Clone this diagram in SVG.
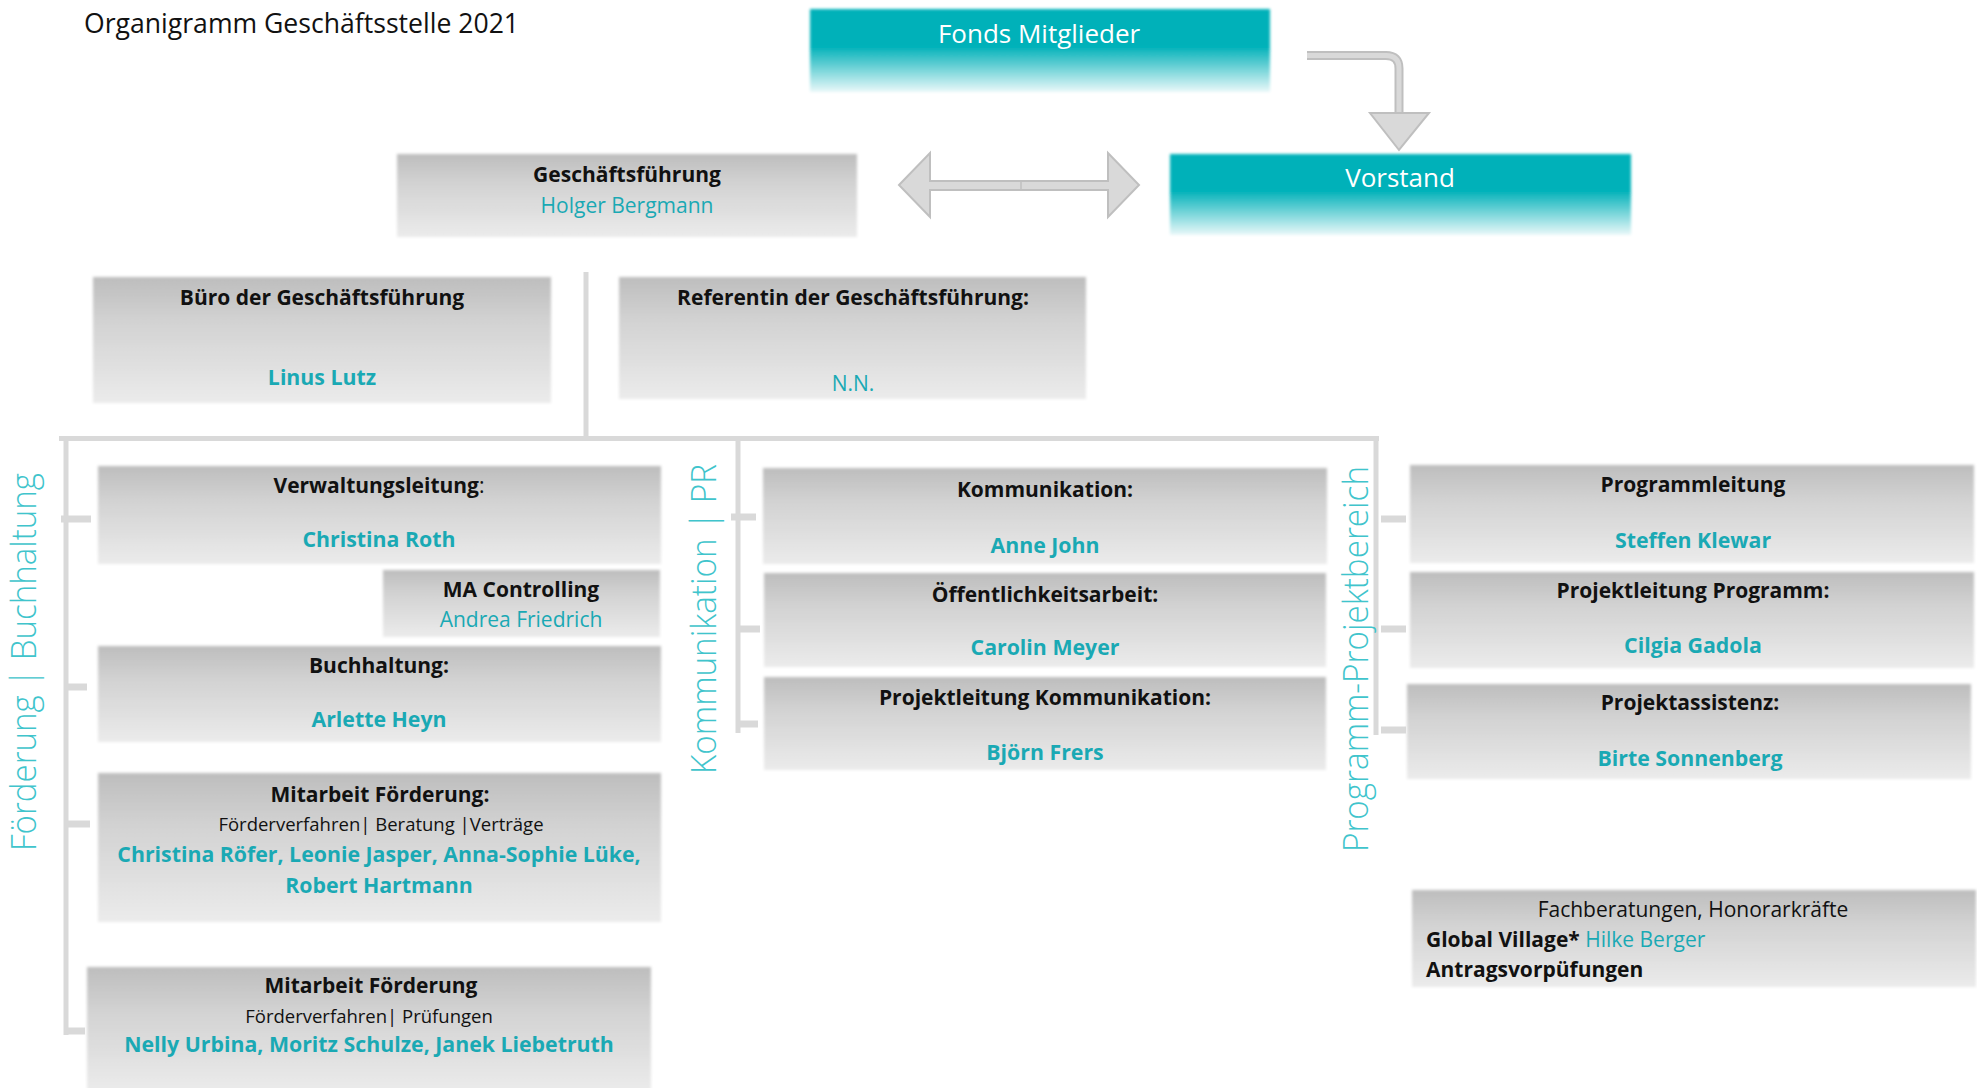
<svg xmlns="http://www.w3.org/2000/svg" width="1977" height="1088" viewBox="0 0 1977 1088">
<defs>
<linearGradient id="gGray" x1="0" y1="0" x2="0" y2="1">
<stop offset="0" stop-color="#bdbdbd"/>
<stop offset="0.35" stop-color="#d2d2d2"/>
<stop offset="1" stop-color="#ebebeb"/>
</linearGradient>
<linearGradient id="gTeal" x1="0" y1="0" x2="0" y2="1">
<stop offset="0" stop-color="#00b1b9"/>
<stop offset="0.45" stop-color="#00b1b9"/>
<stop offset="1" stop-color="#eaf8f9"/>
</linearGradient>
<filter id="soft" x="-5%" y="-10%" width="110%" height="120%"><feGaussianBlur stdDeviation="1.6"/></filter>
<style>
text{font-family:"Open Sans","Liberation Sans",sans-serif;font-size:21px;text-anchor:middle;fill:#111}
.b{font-weight:700}
.t{fill:#1aa9b4}
.n{font-size:21.3px}
.s{font-size:18.5px}
.w{fill:#ffffff;font-size:26px}
.rot{fill:#40c4cc;font-size:34px;font-weight:300}
.box{fill:url(#gGray);filter:url(#soft)}
.tbox{fill:url(#gTeal);filter:url(#soft)}
.ln{stroke:#d9d9d9;stroke-width:5;fill:none}
.stub{stroke:#d9d9d9;stroke-width:7;fill:none}
.arr{fill:#d9d9d9;stroke:#bfbfbf;stroke-width:2}
</style>
</defs>
<rect width="1977" height="1088" fill="#ffffff"/>
<text x="84" y="33" style="font-size:26.6px;text-anchor:start">Organigramm Geschäftsstelle 2021</text>

<g id="connectors">
<path d="M1307,55.5 H1386 Q1399,55.5 1399,68.5 V114" stroke="#bfbfbf" stroke-width="9" fill="none"/>
<path d="M1307,55.5 H1386 Q1399,55.5 1399,68.5 V116" stroke="#d9d9d9" stroke-width="5" fill="none"/>
<polygon class="arr" points="1370,113 1429,113 1399,150"/>
<polygon class="arr" points="899,185 930,153 930,181 1108,181 1108,153 1139,185 1108,217 1108,190 930,190 930,217"/>
<line x1="1021" y1="181" x2="1021" y2="190" stroke="#bfbfbf" stroke-width="1.5"/>
<line class="ln" x1="586" y1="272" x2="586" y2="438"/>
<line class="ln" x1="59" y1="438.5" x2="1379" y2="438.5"/>
<line class="ln" x1="66" y1="436" x2="66" y2="1035"/>
<line class="ln" x1="738" y1="436" x2="738" y2="733"/>
<line class="ln" x1="1376" y1="436" x2="1376" y2="735"/>
<line class="stub" x1="61" y1="519" x2="91" y2="519"/>
<line class="stub" x1="66" y1="687" x2="87" y2="687"/>
<line class="stub" x1="66" y1="824" x2="90" y2="824"/>
<line class="stub" x1="66" y1="1031" x2="85" y2="1031"/>
<line class="stub" x1="731" y1="517" x2="756" y2="517"/>
<line class="stub" x1="738" y1="629" x2="760" y2="629"/>
<line class="stub" x1="738" y1="724" x2="758" y2="724"/>
<line class="stub" x1="1381" y1="519" x2="1406" y2="519"/>
<line class="stub" x1="1381" y1="629" x2="1406" y2="629"/>
<line class="stub" x1="1381" y1="730" x2="1406" y2="730"/>
</g>

<text class="rot" transform="translate(36,662) rotate(-90)" textLength="378" lengthAdjust="spacingAndGlyphs">Förderung | Buchhaltung</text>
<text class="rot" transform="translate(716,619) rotate(-90)" textLength="310" lengthAdjust="spacingAndGlyphs">Kommunikation | PR</text>
<text class="rot" transform="translate(1368,659) rotate(-90)" textLength="386" lengthAdjust="spacingAndGlyphs">Programm-Projektbereich</text>

<g id="fonds">
<rect class="tbox" x="810" y="9" width="460" height="83"/>
<text class="w" x="1039" y="43">Fonds Mitglieder</text>
</g>
<g id="vorstand">
<rect class="tbox" x="1170" y="154" width="461" height="81"/>
<text class="w" x="1400" y="187">Vorstand</text>
</g>
<g id="geschaeftsfuehrung">
<rect class="box" x="397" y="154" width="460" height="83"/>
<text class="b" x="627" y="182">Geschäftsführung</text>
<text class="t" x="627" y="213">Holger Bergmann</text>
</g>
<g id="buero">
<rect class="box" x="93" y="277" width="458" height="126"/>
<text class="b" x="322" y="305">Büro der Geschäftsführung</text>
<text class="b t n" x="322" y="385">Linus Lutz</text>
</g>
<g id="referentin">
<rect class="box" x="619" y="277" width="467" height="122"/>
<text class="b" x="853" y="305">Referentin der Geschäftsführung:</text>
<text class="t" x="853" y="391">N.N.</text>
</g>
<g id="verwaltungsleitung">
<rect class="box" x="98" y="466" width="563" height="98"/>
<text x="379" y="493"><tspan class="b">Verwaltungsleitung</tspan>:</text>
<text class="b t n" x="379" y="547">Christina Roth</text>
</g>
<g id="controlling">
<rect class="box" x="383" y="570" width="277" height="67"/>
<text class="b" x="521" y="597">MA Controlling</text>
<text class="t" x="521" y="627">Andrea Friedrich</text>
</g>
<g id="buchhaltung">
<rect class="box" x="98" y="646" width="563" height="96"/>
<text class="b" x="379" y="673">Buchhaltung:</text>
<text class="b t n" x="379" y="727">Arlette Heyn</text>
</g>
<g id="mitarbeit1">
<rect class="box" x="98" y="773" width="563" height="149"/>
<text class="b" x="380" y="802">Mitarbeit Förderung:</text>
<text class="s" x="381" y="831">Förderverfahren| Beratung |Verträge</text>
<text class="b t n" x="379" y="862">Christina Röfer, Leonie Jasper, Anna-Sophie Lüke,</text>
<text class="b t n" x="379" y="893">Robert Hartmann</text>
</g>
<g id="mitarbeit2">
<rect class="box" x="87" y="967" width="564" height="124"/>
<text class="b" x="371" y="993">Mitarbeit Förderung</text>
<text class="s" x="369" y="1023">Förderverfahren| Prüfungen</text>
<text class="b t n" x="369" y="1052">Nelly Urbina, Moritz Schulze, Janek Liebetruth</text>
</g>
<g id="kommunikation">
<rect class="box" x="763" y="468" width="564" height="96"/>
<text class="b" x="1045" y="497">Kommunikation:</text>
<text class="b t n" x="1045" y="553">Anne John</text>
</g>
<g id="oeffentlichkeitsarbeit">
<rect class="box" x="764" y="573" width="562" height="94"/>
<text class="b" x="1045" y="602">Öffentlichkeitsarbeit:</text>
<text class="b t n" x="1045" y="655">Carolin Meyer</text>
</g>
<g id="projektleitung-kommunikation">
<rect class="box" x="764" y="677" width="562" height="93"/>
<text class="b" x="1045" y="705">Projektleitung Kommunikation:</text>
<text class="b t n" x="1045" y="760">Björn Frers</text>
</g>
<g id="programmleitung">
<rect class="box" x="1410" y="465" width="564" height="98"/>
<text class="b" x="1693" y="492">Programmleitung</text>
<text class="b t n" x="1693" y="548">Steffen Klewar</text>
</g>
<g id="projektleitung-programm">
<rect class="box" x="1410" y="572" width="564" height="96"/>
<text class="b" x="1693" y="598">Projektleitung Programm:</text>
<text class="b t n" x="1693" y="653">Cilgia Gadola</text>
</g>
<g id="projektassistenz">
<rect class="box" x="1407" y="684" width="564" height="95"/>
<text class="b" x="1690" y="710">Projektassistenz:</text>
<text class="b t n" x="1690" y="766">Birte Sonnenberg</text>
</g>
<g id="fachberatungen">
<rect class="box" x="1412" y="890" width="564" height="97"/>
<text x="1693" y="917">Fachberatungen, Honorarkräfte</text>
<text x="1426" y="947" style="text-anchor:start"><tspan class="b">Global Village*</tspan><tspan class="t"> Hilke Berger</tspan></text>
<text class="b" x="1426" y="977" style="text-anchor:start">Antragsvorpüfungen</text>
</g>
</svg>
